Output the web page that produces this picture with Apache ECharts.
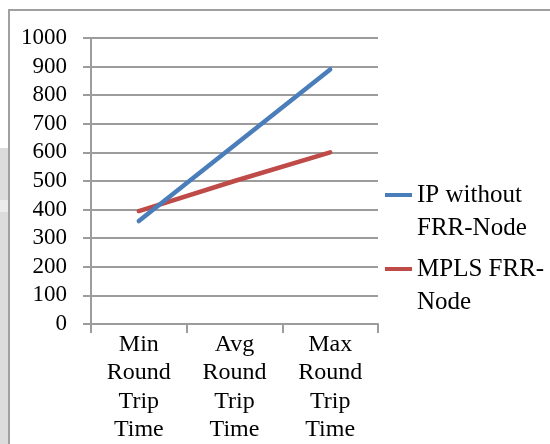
<!DOCTYPE html>
<html>
<head>
<meta charset="utf-8">
<script src="https://cdn.jsdelivr.net/npm/echarts@6/dist/echarts.min.js"></script>
<style>
  html, body { margin: 0; padding: 0; background: #fff; }
  #chart { width: 550px; height: 444px; }
</style>
</head>
<body>
<div id="chart"></div>
<script>
// Round trip time figures for the two network setups
const categories = ['Min\nRound\nTrip\nTime', 'Avg\nRound\nTrip\nTime', 'Max\nRound\nTrip\nTime'];
const seriesNames = ['IP without\nFRR-Node', 'MPLS FRR-\nNode'];
const ipWithoutFrr = [360, 625, 890];
const mplsFrr = [395, 500, 600];
const yTicks = { min: 0, max: 1000, step: 100 };

const serif = 'Liberation Serif';
const gray = '#9c9c9c';
const colors = ['#4a7ebb', '#be4b48'];

// One legend per series so the swatch sits level with the first text line;
// a leading blank line keeps that first line centred on the swatch.
function legendFor(name, top) {
  return {
    data: [name],
    left: 385,
    top: top,
    orient: 'vertical',
    padding: 0,
    icon: 'rect',
    itemWidth: 27,
    itemHeight: 4,
    formatter: (n) => '\n' + n,
    textStyle: {
      fontFamily: serif,
      fontSize: 25,
      lineHeight: 33,
      color: '#000'
    }
  };
}

const chart = echarts.init(document.getElementById('chart'), null, { renderer: 'canvas' });
chart.setOption({
  backgroundColor: '#fff',
  animation: false,
  graphic: [
    { type: 'rect', shape: { x: 0, y: 148, width: 8, height: 296 }, style: { fill: '#dcdcdc' } },
    { type: 'rect', shape: { x: 0, y: 200, width: 8, height: 12 }, style: { fill: '#ececec' } },
    { type: 'rect', shape: { x: 9, y: 10, width: 600, height: 500 }, style: { fill: 'none', stroke: '#a0a0a0', lineWidth: 2 } }
  ],
  grid: { left: 91, top: 38, width: 287, height: 288, containLabel: false },
  legend: [legendFor(seriesNames[0], 145.5), legendFor(seriesNames[1], 219.5)],
  xAxis: {
    type: 'category',
    data: categories,
    boundaryGap: true,
    axisLine: { lineStyle: { color: gray, width: 2 } },
    axisTick: { show: true, length: 9, lineStyle: { color: gray, width: 2 } },
    axisLabel: {
      margin: 6,
      fontFamily: serif,
      fontSize: 24,
      lineHeight: 28.5,
      color: '#000',
      interval: 0
    },
    splitLine: { show: false }
  },
  yAxis: {
    type: 'value',
    min: yTicks.min,
    max: yTicks.max,
    interval: yTicks.step,
    axisLine: { show: true, lineStyle: { color: gray, width: 2 } },
    axisTick: { show: true, length: 8, lineStyle: { color: gray, width: 2 } },
    axisLabel: { margin: 24, fontFamily: serif, fontSize: 23, color: '#000', formatter: (v) => String(v) },
    splitLine: { show: true, lineStyle: { color: gray, width: 2 } }
  },
  series: [
    {
      name: seriesNames[0],
      type: 'line',
      data: ipWithoutFrr,
      symbol: 'none',
      color: colors[0],
      lineStyle: { width: 4.5, color: colors[0], cap: 'round' },
      z: 3
    },
    {
      name: seriesNames[1],
      type: 'line',
      data: mplsFrr,
      symbol: 'none',
      color: colors[1],
      lineStyle: { width: 4.5, color: colors[1], cap: 'round' },
      z: 2
    }
  ]
});
</script>
</body>
</html>
